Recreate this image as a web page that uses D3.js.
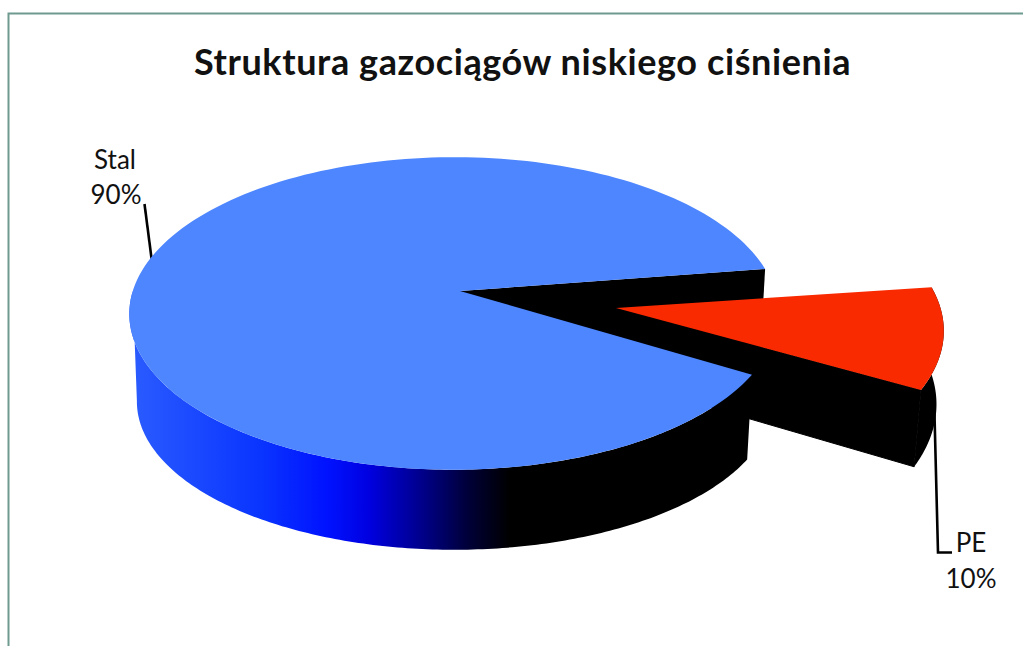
<!DOCTYPE html>
<html>
<head>
<meta charset="utf-8">
<script src="https://cdn.jsdelivr.net/npm/d3@7/dist/d3.min.js"></script>
<style>
html,body{margin:0;padding:0;background:#fff;overflow:hidden}
svg{display:block}
text{font-family:Lato,"Open Sans",sans-serif;fill:#111}
</style>
</head>
<body>
<svg id="chart" width="1023" height="646"></svg>
<script>
const titleText = "Struktura gazociągów niskiego ciśnienia";
const categories = ["PE", "Stal"];
const shares = [10, 90];

const deg = Math.PI / 180;
const svg = d3.select("#chart");

// d3.pie angles: 0 is up, clockwise. The PE slice faces right.
const pie = d3.pie().sort(null).startAngle(82.7 * deg).endAngle((82.7 + 360) * deg);
const slices = pie(shares);
const [peSlice, stalSlice] = slices;

// Tilted-disc projection: pie angle -> offset from the slice apex
const R = 321, kR = 153, p = 0.1437, q = 0.019;
function project(theta, apex, sx, sy) {
  const a = theta - Math.PI / 2, c = Math.cos(a), s = Math.sin(a), w = 1 - p * s + q * c;
  return [apex[0] + sx * R * c / w, apex[1] + sy * kR * s / w];
}
const sampled = (a0, a1) => d3.range(0, 181).map(i => a0 + (a1 - a0) * i / 180);
const line = d3.line();

// Geometry of each piece
const stalTop = { apex: [460, 291], sx: 1, sy: 1 };
const stalBot = { apex: [461, 380], sx: 0.98, sy: 0.95 };
const peTop = { apex: [616, 308], sx: 1.03, sy: 1.04 };
const peBot = { apex: [616, 380], sx: 1.007, sy: 1.1 };
const at = (g, t) => project(t, g.apex, g.sx, g.sy);

const s0 = stalSlice.startAngle + 2.3 * deg, s1 = stalSlice.endAngle - 1.3 * deg;
const e0 = peSlice.startAngle - 0.5 * deg, e1 = peSlice.endAngle + 0.5 * deg;

// Side gradient
const grad = svg.append("defs").append("linearGradient")
  .attr("id", "side").attr("gradientUnits", "userSpaceOnUse")
  .attr("x1", 130).attr("x2", 510).attr("y1", 0).attr("y2", 0);
[[0, "#2b5cff"], [0.34, "#0a35ff"], [0.52, "#0012ff"], [0.63, "#0000e0"], [0.76, "#000090"], [0.89, "#000038"], [1, "#000"]]
  .forEach(d => grad.append("stop").attr("offset", d[0]).attr("stop-color", d[1]));

// Frame
svg.append("path").attr("d", "M1023,13.5H8.5V646").attr("fill", "none")
  .attr("stroke", "#6f9a90").attr("stroke-width", 2);

// Stal: far inner wall and outer wall
svg.append("path").attr("fill", "#000").attr("d", line([
  stalTop.apex, at(stalTop, s1), at(stalBot, s1), stalBot.apex
]) + "Z");

svg.append("path").attr("fill", "url(#side)").attr("d", line(
  sampled(s0, 270 * deg).map(t => at(stalTop, t))
    .concat(sampled(s0, 262 * deg).reverse().map(t => at(stalBot, t)))
) + "Z");

// Leader lines
const leaderStal = [[144.5, 204], [152, 262]];
const leaderPE = [[934, 395], [938, 552.5], [952, 552.5]];
[leaderStal, leaderPE].forEach(d => svg.append("path").attr("d", line(d))
  .attr("fill", "none").attr("stroke", "#000").attr("stroke-width", 2.6));

// PE walls
const peAngles = sampled(e0, e1);
svg.append("path").attr("fill", "#000").attr("d", line(
  peAngles.map(t => at(peTop, t)).concat(peAngles.slice().reverse().map(t => at(peBot, t)))
) + "Z");
svg.append("path").attr("fill", "#000").attr("stroke", "#000").attr("stroke-width", 1).attr("d", line([
  peTop.apex, at(peTop, e1), at(peBot, e1), peBot.apex
]) + "Z");

// Stal top, then PE top
svg.append("path").attr("fill", "#4d86ff").attr("d", line(
  [stalTop.apex].concat(sampled(s0, s1).map(t => at(stalTop, t)))
) + "Z");
svg.append("path").attr("fill", "#fa2a00").attr("d", line(
  [peTop.apex].concat(peAngles.map(t => at(peTop, t)))
) + "Z");

// Title
svg.append("text").attr("x", 522.5).attr("y", 75).attr("text-anchor", "middle")
  .attr("font-size", 36).attr("font-weight", 700).attr("letter-spacing", 0.6).text(titleText);

// Data labels
const labelPos = [
  { cat: [971, 552], pct: [971, 588] },
  { cat: [115, 169], pct: [116, 204] }
];
categories.forEach((c, i) => {
  svg.append("text").attr("x", labelPos[i].cat[0]).attr("y", labelPos[i].cat[1])
    .attr("text-anchor", "middle").attr("font-size", 26).text(c);
  svg.append("text").attr("x", labelPos[i].pct[0]).attr("y", labelPos[i].pct[1])
    .attr("text-anchor", "middle").attr("font-size", 26).text(shares[i] + "%");
});
</script>
</body>
</html>
